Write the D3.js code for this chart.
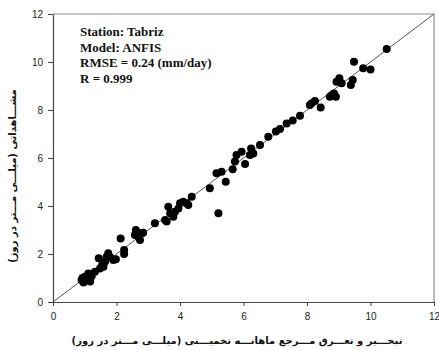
<!DOCTYPE html>
<html>
<head>
<meta charset="utf-8">
<script src="https://cdn.jsdelivr.net/npm/d3@7"></script>
<style>
  body { margin: 0; background: #fff; }
  svg { display: block; }
</style>
</head>
<body>
<svg id="chart"></svg>
<script>
var width = 439;
var height = 350;
var margin = {left: 53, right: 5, top: 14, bottom: 48};

var xTicks = [0, 2, 4, 6, 8, 10, 12];
var yTicks = [0, 2, 4, 6, 8, 10, 12];

var estimated = [0.90, 0.96, 1.00, 1.11, 1.17, 1.22, 1.32, 0.93, 1.05, 1.15,
    1.44, 1.48, 1.59, 1.64, 1.69, 1.74, 1.80, 1.90, 1.98, 1.55,
    2.13, 2.24, 2.24,
    2.61, 2.58, 2.69, 2.74, 2.79, 2.84,
    3.21, 3.53, 3.58, 3.63, 3.69, 3.79, 3.84, 3.95, 4.00, 4.10, 4.21, 4.26, 4.37,
    4.94, 5.21, 5.15, 5.31, 5.44, 5.66, 5.73, 5.78, 5.94, 6.05, 6.20, 6.24, 6.31, 6.52,
    6.78, 7.02, 7.15, 7.36, 7.55, 7.78, 8.09, 8.15, 8.25, 8.43, 8.72,
    8.78, 8.85, 8.91, 8.93, 9.02, 9.09, 9.38, 9.44, 9.48, 9.77, 10.00, 10.51];
var observed = [0.92, 0.81, 1.05, 1.19, 0.85, 1.08, 1.26, 1.00, 0.95, 1.00,
    1.82, 1.40, 1.47, 1.68, 1.89, 2.03, 1.86, 1.75, 1.78, 1.55,
    2.65, 2.17, 2.00,
    3.00, 2.79, 2.72, 2.58, 2.86, 2.89,
    3.28, 3.42, 3.35, 3.97, 3.70, 3.55, 3.76, 3.90, 4.11, 4.18, 4.11, 4.04, 4.39,
    4.74, 3.70, 5.36, 5.43, 5.01, 5.53, 5.85, 6.13, 6.26, 5.75, 6.13, 6.40, 6.19, 6.54,
    6.89, 7.10, 7.21, 7.44, 7.56, 7.76, 8.21, 8.28, 8.38, 8.10, 8.55,
    8.63, 8.69, 8.55, 9.18, 9.32, 9.11, 9.04, 9.25, 10.01, 9.74, 9.69, 10.54];

var statsLines = ["Station: Tabriz", "Model: ANFIS", "RMSE = 0.24 (mm/day)", "R = 0.999"];
var xTitle = "تبخـــیر و تعـــرق مـــرجع ماهانـــه تخمیـــنی (میلـــی مـــتر در روز)";
var yTitle = "مشـــاهداتی (میلـــی مـــتر در روز)";

var plotW = width - margin.left - margin.right;
var plotH = height - margin.top - margin.bottom;

var x = d3.scaleLinear().domain([0, 12]).range([0, plotW]);
var y = d3.scaleLinear().domain([0, 12]).range([plotH, 0]);

var svg = d3.select("#chart").attr("width", width).attr("height", height);
var g = svg.append("g")
    .attr("transform", "translate(" + margin.left + "," + margin.top + ")");

// grey frame on top and right
g.append("path")
    .attr("d", "M0,0H" + plotW + "V" + plotH)
    .attr("fill", "none")
    .attr("stroke", "#8c8c8c")
    .attr("stroke-width", 1.2);

// 1:1 line
g.append("line")
    .attr("x1", x(0)).attr("y1", y(0))
    .attr("x2", x(12)).attr("y2", y(12))
    .attr("stroke", "#555")
    .attr("stroke-width", 1);

var xAxis = d3.axisBottom(x).tickValues(xTicks).tickSize(4).tickPadding(7).tickSizeOuter(0);
var yAxis = d3.axisLeft(y).tickValues(yTicks).tickSize(5).tickPadding(5).tickSizeOuter(0);

var gx = g.append("g").attr("transform", "translate(0," + plotH + ")").call(xAxis);
var gy = g.append("g").call(yAxis);
[gx, gy].forEach(function (a) {
    a.selectAll("text")
        .attr("font-family", "'Liberation Sans', Arial, sans-serif")
        .attr("font-size", 10)
        .attr("fill", "#222");
    a.selectAll("line").attr("stroke", "#444");
    a.select(".domain").attr("stroke", "#444").attr("stroke-width", 1.2);
});

// points
var pts = estimated.map(function (d, i) { return [d, observed[i]]; });
g.selectAll("circle.pt")
    .data(pts)
    .enter()
    .append("circle")
    .attr("class", "pt")
    .attr("cx", function (d) { return x(d[0]); })
    .attr("cy", function (d) { return y(d[1]); })
    .attr("r", 4)
    .attr("fill", "#000");

// stats text
g.append("g")
    .selectAll("text")
    .data(statsLines)
    .enter()
    .append("text")
    .attr("x", 27)
    .attr("y", function (d, i) { return 22 + i * 15.7; })
    .attr("font-family", "'Liberation Serif', 'Times New Roman', serif")
    .attr("font-weight", "bold")
    .attr("font-size", 13)
    .attr("fill", "#111")
    .text(function (d) { return d; });

// axis titles
svg.append("text")
    .attr("x", 237)
    .attr("y", 344)
    .attr("text-anchor", "middle")
    .attr("direction", "rtl")
    .attr("font-family", "'DejaVu Sans', sans-serif")
    .attr("font-weight", "bold")
    .attr("font-size", 10)
    .attr("fill", "#111")
    .text(xTitle);

svg.append("text")
    .attr("transform", "translate(16,176) rotate(-90)")
    .attr("text-anchor", "middle")
    .attr("direction", "rtl")
    .attr("font-family", "'DejaVu Sans', sans-serif")
    .attr("font-weight", "bold")
    .attr("font-size", 10)
    .attr("fill", "#111")
    .text(yTitle);
</script>
</body>
</html>
